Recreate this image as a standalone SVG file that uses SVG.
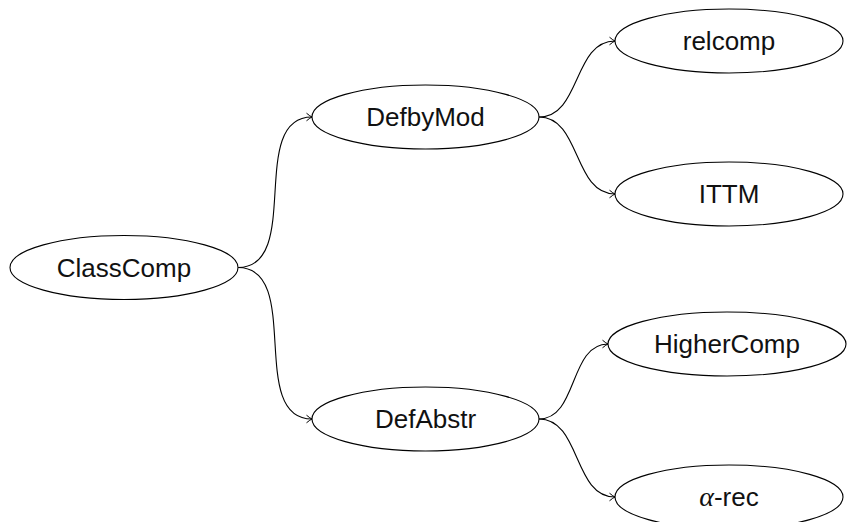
<svg xmlns="http://www.w3.org/2000/svg" width="847" height="522" viewBox="0 0 847 522">
  <style>
    .node ellipse { fill: #ffffff; stroke: #000000; stroke-width: 1.1; }
    .node text { font-family: "Liberation Sans", "DejaVu Sans", sans-serif; font-size: 26px; text-anchor: middle; fill: #111111; }
    .edge { fill: none; stroke: #000000; stroke-width: 1.1; marker-end: url(#to); }
    .math { font-family: "Liberation Serif", "DejaVu Serif", serif; font-style: italic; font-size: 28px; }
  </style>
  <defs>
    <marker id="to" viewBox="-7 -5 9 10" markerWidth="9" markerHeight="10" refX="0" refY="0" orient="auto" markerUnits="userSpaceOnUse">
      <path d="M -5.5 -3.8 Q -1.8 -0.7 0 0 Q -1.8 0.7 -5.5 3.8" fill="none" stroke="#000000" stroke-width="1"/>
    </marker>
  </defs>
  <rect width="847" height="522" fill="#ffffff"/>

  <g id="connectors">
    <path class="edge" d="M 238 267.5 C 303 267.5, 247 117, 312 117"/>
    <path class="edge" d="M 238 267.5 C 303 267.5, 247 419, 312 419"/>
    <path class="edge" d="M 539 117 C 581 117, 573 41, 615 41"/>
    <path class="edge" d="M 539 117 C 581 117, 573 194, 615 194"/>
    <path class="edge" d="M 539 419 C 578 419, 569 344, 608 344"/>
    <path class="edge" d="M 539 419 C 581 419, 573 497, 615 497"/>
  </g>

  <g id="ClassComp" class="node">
    <ellipse cx="124" cy="267.5" rx="114" ry="32"/>
    <text x="124" y="276.5">ClassComp</text>
  </g>
  <g id="DefbyMod" class="node">
    <ellipse cx="425.5" cy="117" rx="113.5" ry="32"/>
    <text x="425.5" y="126">DefbyMod</text>
  </g>
  <g id="DefAbstr" class="node">
    <ellipse cx="425.5" cy="419" rx="113.5" ry="32"/>
    <text x="425.5" y="428">DefAbstr</text>
  </g>
  <g id="relcomp" class="node">
    <ellipse cx="729" cy="41" rx="114" ry="32"/>
    <text x="729" y="50">relcomp</text>
  </g>
  <g id="ITTM" class="node">
    <ellipse cx="729" cy="194" rx="114" ry="32"/>
    <text x="729" y="203">ITTM</text>
  </g>
  <g id="HigherComp" class="node">
    <ellipse cx="727" cy="344" rx="119" ry="32"/>
    <text x="727" y="353">HigherComp</text>
  </g>
  <g id="alpha-rec" class="node">
    <ellipse cx="729" cy="497" rx="114" ry="32"/>
    <text x="729" y="506"><tspan class="math">α</tspan>-rec</text>
  </g>
</svg>
